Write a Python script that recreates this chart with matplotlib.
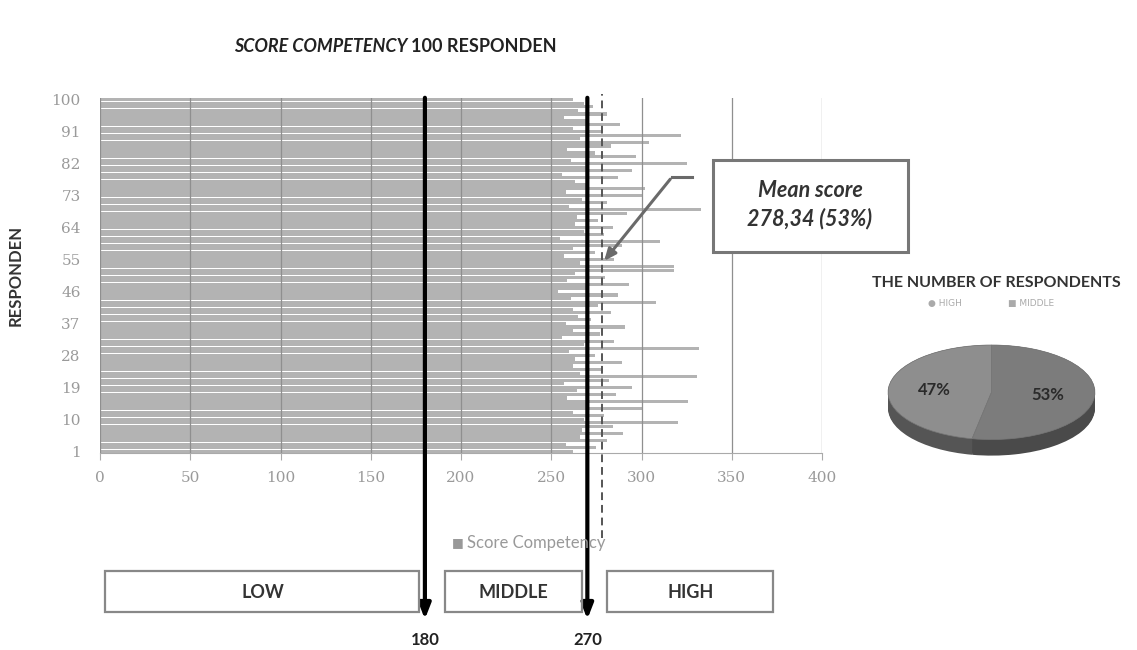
import numpy as np
import matplotlib
matplotlib.use("Agg")
import matplotlib.pyplot as plt
import matplotlib.transforms as mtransforms
from matplotlib.patches import Rectangle
from matplotlib.lines import Line2D

# skor kompetensi per responden (1..100)
scores = [
    262, 275, 258, 281, 266, 290, 267, 284, 320, 268,
    279, 262, 300, 271, 326, 259, 286, 264, 295, 257,
    282, 331, 266, 278, 262, 289, 263, 274, 260, 332,
    268, 285, 256, 277, 262, 291, 258, 272, 265, 283,
    262, 276, 308, 261, 287, 254, 270, 293, 259, 280,
    263, 318, 318, 266, 285, 257, 274, 262, 289, 310,
    255, 279, 268, 284, 263, 276, 264, 292, 333, 260,
    281, 267, 300, 258, 302, 271, 263, 287, 256, 295,
    269, 325, 261, 297, 274, 259, 283, 304, 266, 322,
    278, 262, 288, 270, 257, 281, 265, 273, 268, 262,
]
respondents = list(range(1, 101))
ytick_vals = [1, 10, 19, 28, 37, 46, 55, 64, 73, 82, 91, 100]
xtick_vals = [0, 50, 100, 150, 200, 250, 300, 350, 400]

cut_points = [180, 270]
cut_labels = ["180", "270"]
mean_score = 278.34
mean_text = "278,34 (53%)"
level_names = ["LOW", "MIDDLE", "HIGH"]

pie_labels = ["HIGH", "MIDDLE"]
pie_values = [47, 53]
pie_colors = ["#8e8e8e", "#7c7c7c"]

fig = plt.figure(figsize=(11.37, 6.5), dpi=100)
W, H = 1137, 650

def fx(px):
    return px / W

def fy(py):
    return 1 - py / H

# grafik batang utama
ax = fig.add_axes([fx(100), fy(453), fx(822) - fx(100), fy(98) - fy(453)])
ax.barh(respondents, scores, height=0.9, color="#b3b3b3", zorder=2)
ax.set_xlim(0, 400)
ax.set_ylim(0.5, 100.5)
ax.set_xticks(xtick_vals)
ax.set_yticks(ytick_vals)
ax.set_xticklabels([str(v) for v in xtick_vals], family="DejaVu Serif", fontsize=11, color="#9a9a9a")
ax.set_yticklabels([str(v) for v in ytick_vals], family="DejaVu Serif", fontsize=11, color="#9a9a9a")
ax.tick_params(axis="y", length=0, pad=14)
ax.tick_params(axis="x", length=5, color="#aaaaaa", pad=8)
ax.grid(axis="x", color="#8f8f8f", lw=0.9, zorder=3)
ax.set_axisbelow(False)
for s in ["top", "right", "left"]:
    ax.spines[s].set_visible(False)
ax.spines["bottom"].set_color("#aaaaaa")
ax.set_ylabel("RESPONDEN", fontsize=12, fontweight="bold", color="#333333",
              family="Lato", labelpad=20)

# garis rata-rata
ax.axvline(mean_score, ymin=-0.24, ymax=1.01, color="#555555", lw=1.4,
           ls=(0, (4, 2.5)), zorder=4, clip_on=False)

# judul
fig.text(fx(411), fy(47), "SCORE COMPETENCY ", ha="right", va="center",
         fontsize=13, fontweight="bold", style="italic", family="Lato", color="#222222")
fig.text(fx(411), fy(47), "100 RESPONDEN", ha="left", va="center",
         fontsize=13, fontweight="bold", family="Lato", color="#222222")

# panah batas kategori
for cx, lab in zip(cut_points, cut_labels):
    ax.annotate("", xy=(cx, fy(622)), xytext=(cx, fy(95)),
                xycoords=("data", "figure fraction"), textcoords=("data", "figure fraction"),
                arrowprops=dict(arrowstyle="-|>,head_width=0.35,head_length=0.9",
                                color="black", lw=3), annotation_clip=False, zorder=6)
    ax.annotate(lab, xy=(cx, fy(640)), xycoords=("data", "figure fraction"),
                ha="center", va="center", fontsize=12, fontweight="bold",
                family="Lato", color="#222222", annotation_clip=False)

# kotak LOW / MIDDLE / HIGH
trans = mtransforms.blended_transform_factory(ax.transData, fig.transFigure)
box_spans = [(3, cut_points[0] - 3), (cut_points[0] + 11, cut_points[1] - 3),
             (cut_points[1] + 11, cut_points[1] + 103)]
for (x0, x1), name in zip(box_spans, level_names):
    r = Rectangle((x0, fy(612)), x1 - x0, fy(571) - fy(612), transform=trans,
                  fill=False, ec="#888888", lw=1.6, clip_on=False)
    fig.add_artist(r)
    fig.text((x0 + x1) / 2, fy(592), name, transform=trans, ha="center", va="center",
             fontsize=13, fontweight="bold", family="Lato", color="#333333")

# legenda
fig.text(fx(464), fy(543), "\u25a0", ha="right", va="center", fontsize=9, color="#999999")
fig.text(fx(467), fy(543), "Score Competency", ha="left", va="center",
         fontsize=12, family="Lato", color="#999999")

# kotak keterangan rata-rata
fig.add_artist(Rectangle((fx(713), fy(252)), fx(908) - fx(713), fy(160) - fy(252),
                         transform=fig.transFigure, fill=True, fc="white",
                         ec="#777777", lw=2.2))
fig.text(fx(810), fy(190), "Mean score", ha="center", va="center", fontsize=15.5,
         fontweight="bold", style="italic", family="Lato", color="#333333")
fig.text(fx(810), fy(219), mean_text, ha="center", va="center", fontsize=15.5,
         fontweight="bold", style="italic", family="Lato", color="#333333")
fig.add_artist(Line2D([fx(672), fx(692)], [fy(177), fy(177)], color="#6a6a6a", lw=2.2))
ax.annotate("", xy=(mean_score, 54), xytext=(fx(672), fy(177)),
            textcoords="figure fraction",
            arrowprops=dict(arrowstyle="-|>,head_width=0.3,head_length=0.7",
                            color="#6a6a6a", lw=2.2), zorder=7)

# diagram lingkaran
fig.text(fx(996), fy(283), "THE NUMBER OF RESPONDENTS", ha="center", va="center",
         fontsize=11.5, fontweight="bold", family="Lato", color="#333333")
fig.text(fx(928), fy(304), "\u25cf HIGH", ha="left", va="center", fontsize=6.5, color="#aaaaaa")
fig.text(fx(1008), fy(304), "\u25a0 MIDDLE", ha="left", va="center", fontsize=6.5, color="#aaaaaa")

pax = fig.add_axes([fx(886), fy(475), fx(1097) - fx(886), fy(345) - fy(475)])
depth = np.linspace(0.34, 0.0, 18)
for d in depth:
    pax.pie(pie_values, colors=["#555555", "#4a4a4a"], startangle=90,
            center=(0, -d), radius=1.0, wedgeprops=dict(lw=0))
pax.pie(pie_values, colors=pie_colors, startangle=90, radius=1.0,
        autopct=lambda p: f"{round(p):d}%", pctdistance=0.55,
        textprops=dict(fontsize=12, fontweight="bold", family="Lato", color="#2a2a2a"),
        wedgeprops=dict(lw=0.5, ec="#777777"))
pax.set_aspect("auto")
pax.set_xlim(-1.02, 1.02)
pax.set_ylim(-1.75, 1.0)
pax.axis("off")

fig.savefig("out.png", dpi=100, facecolor="white")
